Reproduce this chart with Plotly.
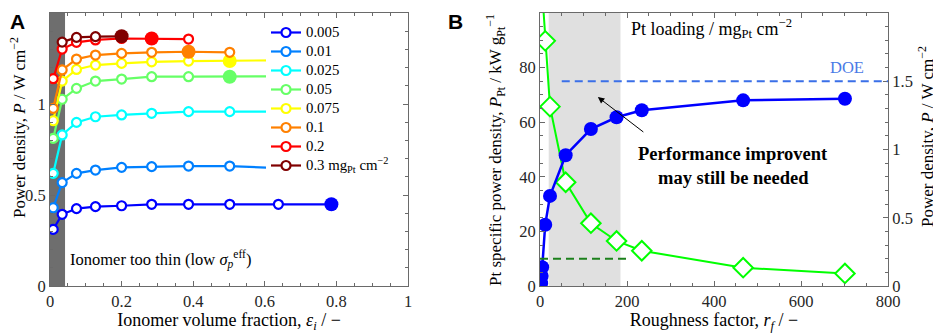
import plotly.graph_objects as go

# ---------------- Panel A data ----------------
eps_i = [0.009, 0.034, 0.074, 0.127, 0.2, 0.284, 0.387, 0.502, 0.638, 0.786]
loading_labels = ["0.005", "0.01", "0.025", "0.05", "0.075", "0.1", "0.2",
                  "0.3 mg<sub>Pt</sub> cm<sup>−2</sup>"]
P_0005 = [0.311, 0.394, 0.425, 0.436, 0.441, 0.449, 0.449, 0.449, 0.449, 0.449]
P_001 = [0.430, 0.568, 0.619, 0.637, 0.652, 0.656, 0.659, 0.659, 0.648]
P_0025 = [0.619, 0.830, 0.899, 0.930, 0.940, 0.949, 0.958, 0.958, 0.958]
P_005 = [0.811, 1.026, 1.086, 1.126, 1.137, 1.150, 1.150, 1.150, 1.152]
P_0075 = [0.908, 1.126, 1.190, 1.214, 1.223, 1.232, 1.236, 1.236, 1.240]
P_01 = [0.976, 1.187, 1.247, 1.269, 1.278, 1.284, 1.287, 1.284]
P_02 = [1.139, 1.302, 1.339, 1.352, 1.360, 1.360, 1.357]
P_03 = [None, 1.340, 1.366, 1.370, 1.372]
opt_index = [9, 8, 8, 7, 7, 6, 5, 4]

# ---------------- Panel B data ----------------
rf_P = [2.5, 3.8, 5.0, 12, 23, 59, 117, 176, 234, 467, 701]
P_rf = [0.02, 0.073, 0.137, 0.449, 0.66, 0.958, 1.15, 1.236, 1.287, 1.36, 1.372]
rf_Ppt = [5.0, 12, 23, 59, 117, 176, 234, 467, 701]
P_Pt = [108, 89.8, 65.7, 38.0, 23.0, 16.5, 12.9, 6.7, 4.6]
DOE_P = 1.5
DOE_Ppt = 10

series = [P_0005, P_001, P_0025, P_005, P_0075, P_01, P_02, P_03]
colors = ["#0000ff", "#0080ff", "#00ffff", "#66ff66", "#ffff00", "#ff8000",
          "#ff0000", "#800000"]

SERIF = "Liberation Serif"
TXT = "#000000"
TICK = "#262626"
AX = "#6a6a6a"

fig = go.Figure()

for vals, col, lab, oi in zip(series, colors, loading_labels, opt_index):
    xs = eps_i[:len(vals)]
    fig.add_trace(go.Scatter(
        x=xs, y=vals, mode="lines+markers", xaxis="x", yaxis="y",
        name='<span style="font-size:14.8px">' + lab + "</span>",
        line=dict(color=col, width=2.2),
        marker=dict(symbol="circle", size=9, color="white",
                    line=dict(color=col, width=2.2)),
    ))
    fig.add_trace(go.Scatter(
        x=[xs[oi]], y=[vals[oi]], mode="markers", xaxis="x", yaxis="y",
        showlegend=False,
        marker=dict(symbol="circle", size=14, color=col,
                    line=dict(color=col, width=0)),
    ))

# Panel B traces
fig.add_trace(go.Scatter(
    x=rf_Ppt, y=P_Pt, mode="lines+markers", xaxis="x2", yaxis="y2",
    showlegend=False, line=dict(color="#00ff00", width=2),
    marker=dict(symbol="diamond", size=15, color="white",
                line=dict(color="#00ff00", width=2)),
))
fig.add_trace(go.Scatter(
    x=rf_P, y=P_rf, mode="lines+markers", xaxis="x2", yaxis="y3",
    showlegend=False, line=dict(color="#0000ff", width=2.5),
    marker=dict(symbol="circle", size=14, color="#0000ff"),
))

shapes = [
    dict(type="rect", xref="x", yref="y", x0=0, x1=0.042, y0=0, y1=1.5,
         fillcolor="#6e6e6e", line=dict(width=0), layer="below"),
    dict(type="rect", xref="x2", yref="y2", x0=20, x1=185, y0=0, y1=100,
         fillcolor="#e0e0e0", line=dict(width=0), layer="below"),
    dict(type="line", xref="x2", yref="y3", x0=50, x1=800, y0=DOE_P, y1=DOE_P,
         line=dict(color="#3a6fe8", width=2, dash="8px,5px")),
    dict(type="line", xref="x2", yref="y2", x0=0, x1=200, y0=DOE_Ppt, y1=DOE_Ppt,
         line=dict(color="#1b801b", width=2, dash="8px,5px")),
]

# the page body has an 8px margin, so the figure starts at (8, 8) in the window
OFF = 8
W, H = 941 - OFF, 333 - OFF
def px(xp):
    return (xp - OFF) / W
def py(yp):
    return 1 - (yp - OFF) / H

tf = dict(family=SERIF, size=18, color=TXT)
tfy = dict(family=SERIF, size=17, color=TXT)
annotations = [
    dict(text="<b>A</b>", x=px(8), y=py(8), xref="paper", yref="paper",
         xanchor="left", yanchor="top", showarrow=False,
         font=dict(family="Liberation Sans", size=21, color="#000")),
    dict(text="<b>B</b>", x=px(446), y=py(8), xref="paper", yref="paper",
         xanchor="left", yanchor="top", showarrow=False,
         font=dict(family="Liberation Sans", size=21, color="#000")),
    dict(text="Power density, <i>P</i> / W cm<sup>−2</sup>", x=px(18), y=py(128),
         xref="paper", yref="paper", textangle=-90, showarrow=False,
         xanchor="center", yanchor="middle", font=tfy),
    dict(text="Pt specific power density, <i>P</i><sub>Pt</sub> / kW g<sub>Pt</sub><sup>−1</sup>",
         x=px(495), y=py(150), xref="paper", yref="paper", textangle=-90,
         showarrow=False, xanchor="center", yanchor="middle", font=tfy),
    dict(text="Power density, <i>P</i> / W cm<sup>−2</sup>", x=px(926), y=py(137),
         xref="paper", yref="paper", textangle=-90, showarrow=False,
         xanchor="center", yanchor="middle", font=tfy),
    dict(text="Ionomer too thin (low <i>σ</i><sub><i>p</i></sub><sup>eff</sup>)",
         x=px(68), y=py(259), xref="paper", yref="paper", xanchor="left",
         yanchor="middle", showarrow=False,
         font=dict(family=SERIF, size=16.5, color=TXT)),
    dict(text="Pt loading / mg<sub>Pt</sub> cm<sup>−2</sup>", x=px(629), y=py(28),
         xref="paper", yref="paper", xanchor="left", yanchor="middle",
         showarrow=False, font=tf),
    dict(text="DOE", x=px(847), y=py(67), xref="paper", yref="paper",
         xanchor="center", yanchor="middle", showarrow=False,
         font=dict(family=SERIF, size=16.5, color="#4a7ae6")),
    dict(text="<b>Performance improvent</b>", x=px(733), y=py(154), xref="paper",
         yref="paper", xanchor="center", yanchor="middle", showarrow=False,
         font=dict(family=SERIF, size=18.5, color=TXT)),
    dict(text="<b>may still be needed</b>", x=px(733), y=py(178), xref="paper",
         yref="paper", xanchor="center", yanchor="middle", showarrow=False,
         font=dict(family=SERIF, size=18.5, color=TXT)),
    dict(text="", x=133, y=69.2, xref="x2", yref="y2", ax=241, ay=56,
         axref="x2", ayref="y2", showarrow=True, arrowhead=2, arrowsize=1.3,
         arrowwidth=1, arrowcolor="#000"),
]

common_axis = dict(showline=True, linecolor=AX, linewidth=1, ticks="inside",
                   tickcolor=AX, ticklen=5, tickwidth=1, showgrid=False,
                   zeroline=False, automargin=False,
                   tickfont=dict(family=SERIF, size=16.5, color=TICK))

fig.update_layout(
    width=W, height=H, margin=dict(l=0, r=0, t=0, b=0, autoexpand=False),
    paper_bgcolor="white", plot_bgcolor="white",
    shapes=shapes, annotations=annotations,
    xaxis=dict(domain=[px(50), px(408)], range=[0, 1], dtick=0.2, anchor="y",
               mirror="ticks",
               minor=dict(dtick=0.05, ticks="inside", ticklen=3, tickcolor=AX),
               title=dict(text="Ionomer volume fraction, <i>ε<sub>i</sub></i> / −",
                          font=tf, standoff=4),
               **common_axis),
    yaxis=dict(domain=[py(286), py(13)], range=[0, 1.5], dtick=0.5, anchor="x",
               mirror="ticks",
               minor=dict(dtick=0.1, ticks="inside", ticklen=3, tickcolor=AX),
               **common_axis),
    xaxis2=dict(domain=[px(540), px(888)], range=[0, 800], dtick=200, anchor="y2",
                mirror="ticks",
                minor=dict(dtick=50, ticks="inside", ticklen=3, tickcolor=AX),
                title=dict(text="Roughness factor, <i>r<sub>f</sub></i> / −",
                           font=tf, standoff=4),
                **common_axis),
    yaxis2=dict(domain=[py(286), py(13)], range=[0, 100], dtick=20, anchor="x2",
                minor=dict(dtick=5, ticks="inside", ticklen=3, tickcolor=AX),
                **common_axis),
    yaxis3=dict(range=[0, 2], dtick=0.5, overlaying="y2", side="right", anchor="x2",
                minor=dict(dtick=0.1, ticks="inside", ticklen=3, tickcolor=AX),
                **common_axis),
    legend=dict(x=px(266), y=py(18), xanchor="left", yanchor="top",
                bgcolor="white", borderwidth=0,
                font=dict(family=SERIF, size=11, color=TXT),
                tracegroupgap=0, itemwidth=30),
)

fig.write_html("out.html")
